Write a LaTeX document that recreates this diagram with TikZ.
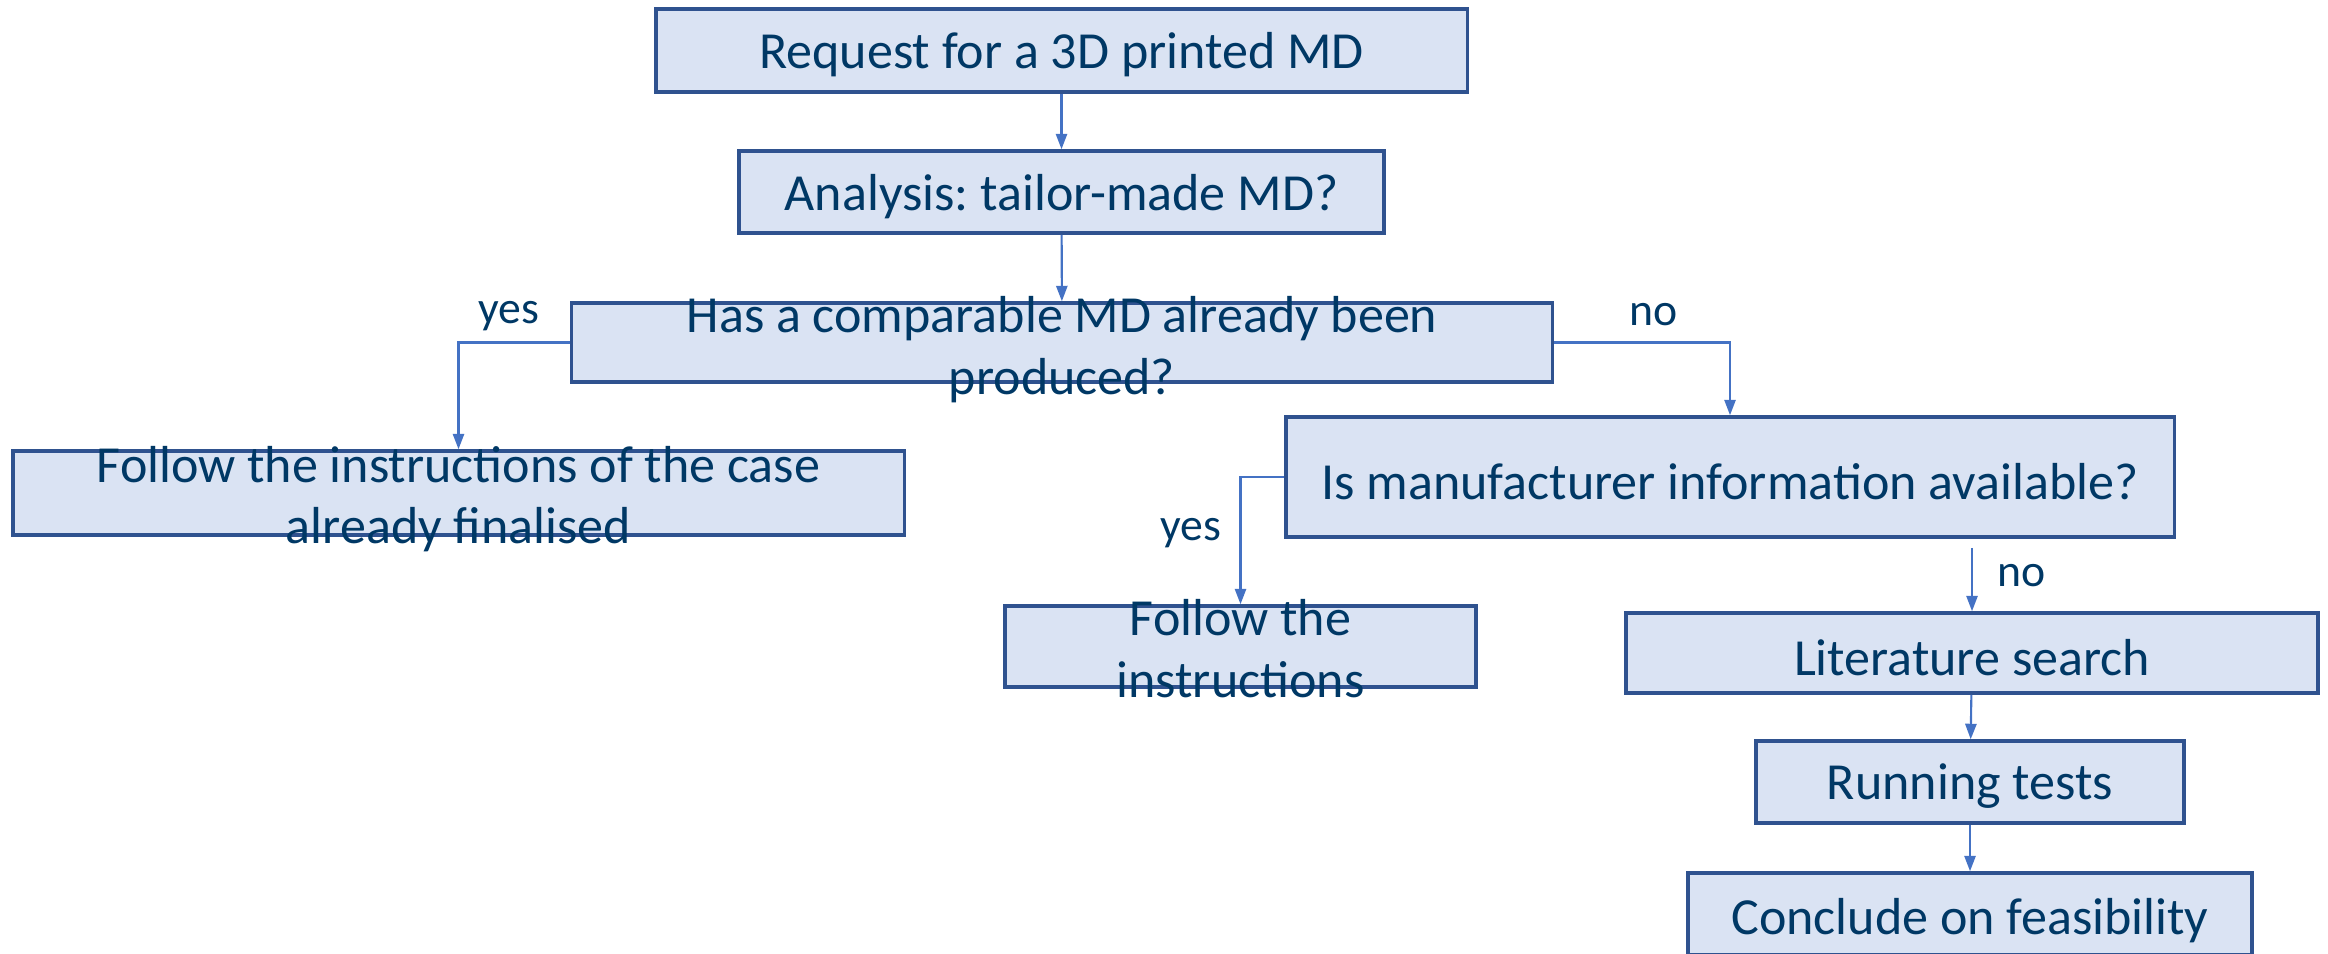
\documentclass[tikz,border=0pt]{standalone}
\usepackage{fontspec}
\setmainfont{Carlito}
\frenchspacing
\usetikzlibrary{arrows.meta}
\definecolor{boxfill}{HTML}{DAE3F3}
\definecolor{boxline}{HTML}{2F528F}
\definecolor{linkblue}{HTML}{4472C4}
\definecolor{inkblue}{HTML}{003865}
\tikzset{
  stepbox/.style={draw=boxline, line width=1pt, fill=boxfill, inner sep=0pt},
  boxtext/.style={text=inkblue, align=center, inner sep=0pt,
    font=\fontsize{14.8pt}{17.4pt}\selectfont},
  oneline/.style={boxtext, yshift=-0.045cm},
  answer/.style={text=inkblue, inner sep=0pt, font=\fontsize{13pt}{15pt}\selectfont},
  link/.style={draw=linkblue, line width=0.6pt, -{Triangle[width=3.2pt,length=4.4pt]}}
}
\begin{document}
\begin{tikzpicture}[x=0.01cm,y=-0.01cm]
\useasboundingbox (0,0) rectangle (2328,953);

% process boxes
\node[stepbox, minimum width=8.11cm, minimum height=0.83cm] (b1) at (1061.5,50.5) {};
\node[stepbox, minimum width=6.45cm, minimum height=0.82cm] (b2) at (1061.5,192) {};
\node[stepbox, minimum width=9.80cm, minimum height=0.79cm] (b3) at (1062,342.5) {};
\node[stepbox, minimum width=8.91cm, minimum height=0.84cm] (b4) at (458.5,493) {};
\node[stepbox, minimum width=8.88cm, minimum height=1.20cm] (b5) at (1730,477) {};
\node[stepbox, minimum width=4.71cm, minimum height=0.81cm] (b6) at (1240.5,646.5) {};
\node[stepbox, minimum width=6.92cm, minimum height=0.80cm] (b7) at (1972,653) {};
\node[stepbox, minimum width=4.28cm, minimum height=0.82cm] (b8) at (1970,782) {};
\node[stepbox, minimum width=5.64cm, minimum height=0.82cm] (b9) at (1970,914) {};

% box texts
\node[oneline] (t1) at (b1) {Request for a 3D printed MD};
\node[oneline] (t2) at (b2) {Analysis: tailor-made MD?};
\node[boxtext, yshift=-0.07cm] (t3) at (b3) {Has a comparable MD already been\\produced?};
\node[boxtext, yshift=-0.06cm] (t4) at (b4) {Follow the instructions of the case\\already finalised};
\node[oneline] (t5) at (b5) {Is manufacturer information available?};
\node[boxtext, yshift=-0.02cm] (t6) at (b6) {Follow the\\instructions};
\node[oneline] (t7) at (b7) {Literature search};
\node[oneline] (t8) at (b8) {Running tests};
\node[oneline, yshift=-0.02cm] (t9) at (b9) {Conclude on feasibility};

% connectors
\draw[link] (b1) -- (b2);
\draw[link] (b2) -- (b3);
\draw[link] (b3.west) -| (b4.north);
\draw[link] (b3.east) -| (b5.north);
\draw[link] (b5.west) -| (b6.north);
\draw[link, shorten <=0.09cm] (b5.south -| b7.north) -- (b7.north);
\draw[link] (b7) -- (b8);
\draw[link] (b8) -- (b9);

% answer labels
\node[answer] (yes1) at (509,316) {yes};
\node[answer] (no1) at (1654,315) {no};
\node[answer] (yes2) at (1191,533) {yes};
\node[answer] (no2) at (2022,576) {no};
\end{tikzpicture}
\end{document}
